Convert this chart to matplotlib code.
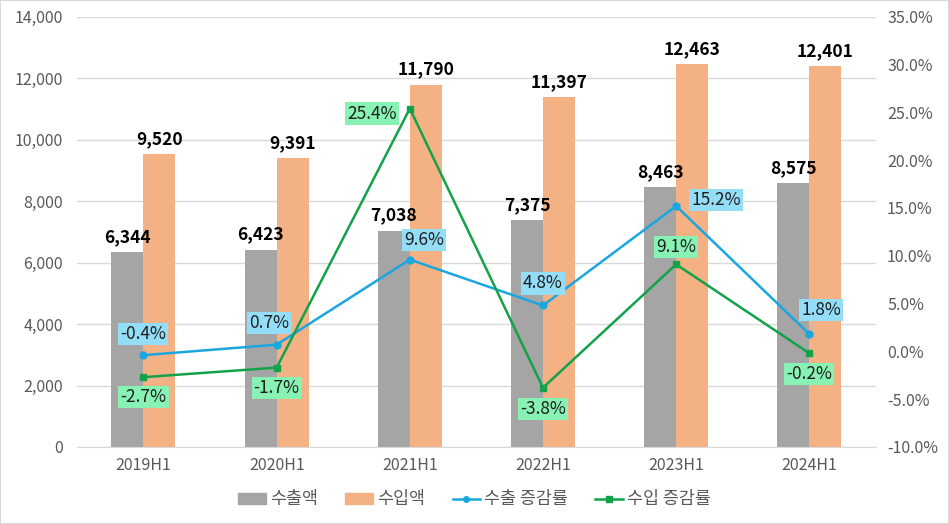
import matplotlib
matplotlib.use('Agg')
from matplotlib import pyplot as plt
from matplotlib.patches import Rectangle
from matplotlib.lines import Line2D
from matplotlib.ticker import FuncFormatter
import numpy as np

plt.rcParams['font.family'] = ['Noto Sans CJK KR', 'DejaVu Sans']

# 데이터
periods = ['2019H1', '2020H1', '2021H1', '2022H1', '2023H1', '2024H1']
export_amt = [6344, 6423, 7038, 7375, 8463, 8575]
import_amt = [9520, 9391, 11790, 11397, 12463, 12401]
export_growth = [-0.4, 0.7, 9.6, 4.8, 15.2, 1.8]
import_growth = [-2.7, -1.7, 25.4, -3.8, 9.1, -0.2]

# 라벨 위치 (픽셀 오프셋)
export_offsets = [(0, 21), (-8, 22), (14, 20), (0, 22), (40, 6), (12, 24)]
import_offsets = [(0, -20), (0, -20), (-38, -5), (0, -21), (0, 17), (0, -21)]

c_exp = '#A5A5A5'
c_imp = '#F4B183'
c_line_exp = '#1AA7E0'
c_line_imp = '#12A24A'
grid_c = '#D9D9D9'
tick_c = '#595959'

fig = plt.figure(figsize=(9.49, 5.24), dpi=100)
ax = fig.add_axes([0.081, 0.147, 0.842, 0.821])
ax2 = ax.twinx()

x = np.arange(len(periods))
w = 0.24

ax.bar(x - w / 2, export_amt, w, color=c_exp, zorder=2)
ax.bar(x + w / 2, import_amt, w, color=c_imp, zorder=2)

for i in range(len(periods)):
    ax.annotate(f'{export_amt[i]:,}', (x[i] - w / 2, export_amt[i]), xytext=(0, 6),
                textcoords='offset pixels', ha='center', va='bottom',
                fontsize=12.5, fontweight='bold', color='black')
    ax.annotate(f'{import_amt[i]:,}', (x[i] + w / 2, import_amt[i]), xytext=(0, 6),
                textcoords='offset pixels', ha='center', va='bottom',
                fontsize=12.5, fontweight='bold', color='black')

ax.set_xlim(-0.5, 5.5)
ax.set_ylim(0, 14000)
ax.set_yticks(range(0, 14001, 2000))
ax.yaxis.set_major_formatter(FuncFormatter(lambda v, p: f'{int(v):,}'))
ax.set_xticks(x)
ax.set_xticklabels(periods)
ax.grid(axis='y', color=grid_c, linewidth=1, zorder=0)
ax.set_axisbelow(True)

ax2.plot(x, export_growth, color=c_line_exp, marker='o', markersize=5, linewidth=1.8, zorder=3)
ax2.plot(x, import_growth, color=c_line_imp, marker='s', markersize=5, linewidth=1.8, zorder=3)
ax2.set_ylim(-10, 35)
ax2.set_yticks(range(-10, 36, 5))
ax2.yaxis.set_major_formatter(FuncFormatter(lambda v, p: f'{v:.1f}%'))

for i in range(len(periods)):
    dx, dy = export_offsets[i]
    arrow = None
    if i == len(periods) - 1:
        arrow = dict(arrowstyle='-', color='#BFBFBF', lw=0.8, shrinkA=0, shrinkB=3)
    ax2.annotate(f'{export_growth[i]:.1f}%', (x[i], export_growth[i]), xytext=(dx, dy),
                 textcoords='offset pixels', ha='center', va='center', fontsize=12.5,
                 color='#1F1F1F', arrowprops=arrow,
                 bbox=dict(boxstyle='square,pad=0.12', fc='#93DDF7', ec='none'), zorder=5)
    dx, dy = import_offsets[i]
    ax2.annotate(f'{import_growth[i]:.1f}%', (x[i], import_growth[i]), xytext=(dx, dy),
                 textcoords='offset pixels', ha='center', va='center', fontsize=12.5,
                 color='#1F1F1F',
                 bbox=dict(boxstyle='square,pad=0.12', fc='#88F2B4', ec='none'), zorder=5)

for a in (ax, ax2):
    for s in a.spines.values():
        s.set_visible(False)
    a.tick_params(length=0, colors=tick_c, labelsize=11.5)
ax.spines['bottom'].set_visible(True)
ax.spines['bottom'].set_color(grid_c)
ax.tick_params(axis='x', pad=7)
ax.tick_params(axis='y', pad=10)
ax2.tick_params(axis='y', pad=8)

handles = [
    Rectangle((0, 0), 1, 1, color=c_exp),
    Rectangle((0, 0), 1, 1, color=c_imp),
    Line2D([], [], color=c_line_exp, marker='o', markersize=4, linewidth=1.8),
    Line2D([], [], color=c_line_imp, marker='s', markersize=4, linewidth=1.8),
]
labels = ['수출액', '수입액', '수출 증감률', '수입 증감률']
fig.legend(handles, labels, loc='lower center', bbox_to_anchor=(0.5, 0.0), ncol=4,
           frameon=False, fontsize=12.5, handlelength=1.6, handleheight=0.6,
           columnspacing=1.6, handletextpad=0.2, labelcolor=tick_c)

fig.patches.append(Rectangle((0, 0), 1, 1, transform=fig.transFigure, fill=False,
                             edgecolor=grid_c, linewidth=1.5))

plt.savefig('out.png', dpi=100)
